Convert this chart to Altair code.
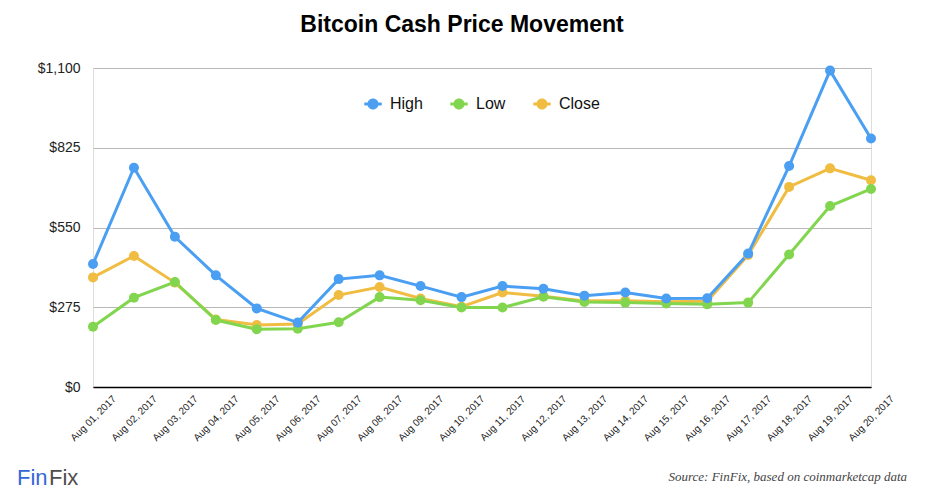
import altair as alt
import pandas as pd

dates = ["Aug 01, 2017", "Aug 02, 2017", "Aug 03, 2017", "Aug 04, 2017", "Aug 05, 2017",
         "Aug 06, 2017", "Aug 07, 2017", "Aug 08, 2017", "Aug 09, 2017", "Aug 10, 2017",
         "Aug 11, 2017", "Aug 12, 2017", "Aug 13, 2017", "Aug 14, 2017", "Aug 15, 2017",
         "Aug 16, 2017", "Aug 17, 2017", "Aug 18, 2017", "Aug 19, 2017", "Aug 20, 2017"]
high = [424, 756, 518, 385, 271, 222, 372, 385, 348, 310, 348, 339, 315, 326, 305, 306, 460, 762, 1091, 857]
low = [208, 308, 362, 231, 199, 201, 223, 310, 299, 274, 274, 311, 293, 291, 288, 285, 291, 457, 624, 683]
close = [378, 452, 360, 233, 214, 217, 317, 345, 305, 277, 326, 313, 297, 297, 294, 296, 455, 690, 754, 713]
series = ["High", "Low", "Close"]
colors = ["#4a9ff3", "#82d64f", "#f0bd42"]
y_ticks = [0, 275, 550, 825, 1100]

rows = []
for name, vals in [("Close", close), ("Low", low), ("High", high)]:
    for i, (d, v) in enumerate(zip(dates, vals)):
        rows.append({"date": d, "price": v, "series": name})
df = pd.DataFrame(rows)

sym = ("M-1.1,-0.2L-0.6,-0.2L-0.6,0.2L-1.1,0.2Z"
       "M0.6,-0.2L1.1,-0.2L1.1,0.2L0.6,0.2Z"
       "M0.7,0A0.7,0.7 0 1,1 -0.7,0A0.7,0.7 0 1,1 0.7,0Z")

x_enc = alt.X("date:O", sort=dates, scale=alt.Scale(type="point", padding=0),
              axis=alt.Axis(title=None, labelAngle=-45, labelAlign="center", labelBaseline="middle",
                            labelPadding=31, ticks=False, tickSize=0, grid=False,
                            domainColor="#000000", domainWidth=1.5,
                            labelFontSize=10, labelColor="#222222", labelFont="Liberation Sans"))
y_enc = alt.Y("price:Q", scale=alt.Scale(domain=[0, 1100], nice=False),
              axis=alt.Axis(title=None, values=y_ticks, format="$,.0f", domain=False, ticks=False,
                            labelPadding=13, labelFontSize=14, labelColor="#222222",
                            labelFont="Liberation Sans", gridColor="#b8b8b8", gridWidth=1))
color_scale = alt.Scale(domain=series, range=colors)
legend = alt.Legend(title=None, orient="none", legendX=272, legendY=28,
                    direction="horizontal", symbolType=sym, symbolSize=250,
                    symbolStrokeWidth=0, symbolOpacity=1,
                    labelFontSize=16, labelFont="Liberation Sans",
                    labelColor="#111111", labelOffset=9, columnPadding=27,
                    padding=0)

lines = alt.Chart(df).mark_line(strokeWidth=3).encode(
    x=x_enc, y=y_enc,
    color=alt.Color("series:N", scale=color_scale, legend=legend),
)
points = alt.Chart(df).mark_circle(size=100, opacity=1).encode(
    x=x_enc, y=y_enc,
    color=alt.Color("series:N", scale=color_scale, legend=legend),
)

logo_fin = alt.Chart(pd.DataFrame({"t": ["Fin"]})).mark_text(
    align="left", baseline="alphabetic", fontSize=22, font="Liberation Sans", color="#3566d6"
).encode(text="t:N", x=alt.value(-76), y=alt.value(417))
logo_fix = alt.Chart(pd.DataFrame({"t": ["Fix"]})).mark_text(
    align="left", baseline="alphabetic", fontSize=22, font="Liberation Sans", color="#4d4d4d"
).encode(text="t:N", x=alt.value(-44), y=alt.value(417))
source = alt.Chart(pd.DataFrame({"t": ["Source: FinFix, based on coinmarketcap data"]})).mark_text(
    align="right", baseline="alphabetic", fontSize=13, font="Liberation Serif", fontStyle="italic",
    color="#444444"
).encode(text="t:N", x=alt.value(814), y=alt.value(413))
title = alt.Chart(pd.DataFrame({"t": ["Bitcoin Cash Price Movement"]})).mark_text(
    align="center", baseline="alphabetic", fontSize=23, font="Liberation Sans", fontWeight="bold",
    color="#000000"
).encode(text="t:N", x=alt.value(369), y=alt.value(-36))

chart = alt.layer(lines, points, title, logo_fin, logo_fix, source).properties(
    width=778, height=319,
    autosize=alt.AutoSizeParams(type="none"),
    padding={"left": 85, "top": 60, "right": 54, "bottom": 105},
).configure_view(stroke=None).configure(background="#ffffff")

chart.save("out.html", embed_options={"renderer": "svg", "actions": False})
